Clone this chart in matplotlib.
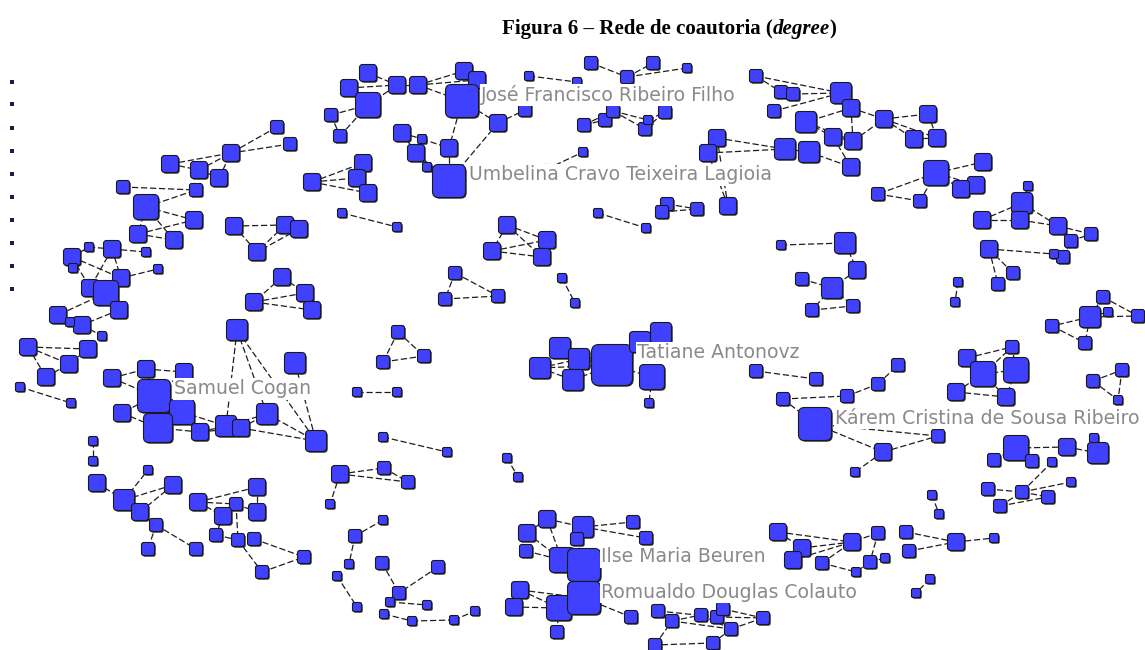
import matplotlib
matplotlib.use("Agg")
import matplotlib.pyplot as plt
from matplotlib.patches import FancyBboxPatch
from matplotlib.collections import LineCollection

# ======================
# DATA (layout in pixels of the original drawing, degree of each author)
# ======================
node_x = [
    277, 290, 231, 170, 199, 219, 123, 196, 146, 194,      # 0-9
    138, 174, 72, 89, 112, 146, 73, 121, 158, 90,          # 10-19
    106, 119, 58, 82, 70, 102, 28, 88, 69, 46,             # 20-29
    20, 71, 112, 146, 184, 154, 122, 182, 158, 200,        # 30-39
    226, 241, 267, 295, 316, 237, 234, 285, 299, 257,      # 40-49
    282, 254, 305, 312, 368, 349, 397, 418, 464, 477,      # 50-59
    462, 368, 331, 340, 525, 498, 402, 422, 416, 449,      # 60-69
    427, 449, 529, 547, 577, 583, 591, 627, 653, 687,      # 70-79
    584, 605, 613, 645, 648, 665, 717, 708, 785, 809,      # 80-89
    756, 781, 793, 774, 841, 851, 806, 833, 853, 851,      # 90-99
    884, 928, 914, 937, 936, 983, 976, 961, 878, 920,      # 100-109
    1028, 1022, 1020, 982, 1058, 1071, 1091, 989, 1013, 998,  # 110-119
    1063, 1054, 958, 955, 1103, 1090, 1108, 1138, 1052, 1085,  # 120-129
    1093, 1122, 1118, 967, 983, 1016, 1012, 956, 1006, 756,   # 130-139
    816, 783, 847, 815, 898, 878, 938, 883, 855, 1016,     # 140-149
    994, 1032, 1067, 1098, 1094, 1052, 988, 1022, 1048, 1000,  # 150-159
    1071, 878, 906, 909, 956, 994, 870, 885, 856, 930,     # 160-169
    916, 852, 778, 802, 793, 822, 547, 527, 526, 583,      # 170-179
    577, 633, 646, 562, 584, 520, 514, 559, 584, 557,      # 180-189
    631, 658, 672, 701, 717, 723, 763, 731, 713, 655,      # 190-199
    340, 384, 408, 330, 383, 355, 349, 337, 357, 382,      # 200-209
    438, 399, 390, 427, 384, 412, 454, 475, 357, 397,      # 210-219
    383, 447, 507, 518, 383, 424, 398, 93, 93, 97,         # 220-229
    124, 140, 148, 173, 156, 148, 196, 198, 257, 236,      # 230-239
    223, 257, 216, 238, 254, 262, 304, 507, 547, 542,      # 240-249
    492, 455, 445, 498, 562, 575, 342, 397, 312, 363,      # 250-259
    357, 368, 667, 662, 697, 728, 598, 646, 781, 845,      # 260-269
    857, 832, 802, 812, 853, 540, 560, 579, 573, 612,      # 270-279
    640, 661, 652, 649, 932, 939,                          # 280-285
    12, 12, 12, 12, 12, 12, 12, 12, 12, 12,                # 286-295 isolates
]
node_y = [
    127, 144, 153, 164, 170, 178, 187, 190, 207, 220,
    234, 240, 257, 247, 249, 252, 268, 278, 269, 288,
    293, 310, 315, 325, 322, 336, 347, 349, 364, 377,
    387, 403, 378, 369, 372, 396, 413, 412, 428, 432,
    426, 428, 414, 363, 441, 330, 226, 225, 229, 252,
    277, 302, 293, 310, 73, 88, 85, 85, 71, 80,
    101, 105, 115, 136, 110, 123, 133, 139, 153, 148,
    167, 181, 76, 169, 82, 152, 63, 77, 63, 68,
    125, 120, 111, 129, 120, 112, 138, 153, 149, 152,
    76, 92, 94, 111, 93, 108, 122, 137, 141, 167,
    119, 114, 139, 138, 173, 162, 185, 189, 194, 201,
    186, 203, 220, 220, 226, 241, 234, 249, 273, 284,
    257, 254, 282, 302, 297, 317, 312, 316, 326, 343,
    381, 370, 400, 358, 374, 370, 347, 392, 397, 371,
    379, 399, 396, 424, 365, 384, 436, 452, 472, 448,
    460, 461, 447, 453, 438, 462, 489, 492, 497, 506,
    482, 533, 532, 551, 542, 538, 562, 558, 572, 579,
    593, 542, 532, 548, 560, 563, 519, 533, 551, 527,
    539, 522, 538, 560, 565, 590, 607, 608, 598, 632,
    617, 611, 621, 615, 617, 609, 618, 629, 643, 645,
    474, 468, 482, 504, 520, 536, 564, 576, 607, 563,
    567, 593, 602, 605, 614, 621, 620, 611, 392, 392,
    437, 452, 458, 477, 362, 356, 332, 441, 461, 483,
    500, 512, 470, 485, 525, 549, 549, 502, 487, 504,
    516, 512, 535, 540, 539, 572, 557, 225, 240, 257,
    251, 273, 299, 296, 278, 303, 213, 227, 182, 163,
    178, 193, 204, 212, 209, 206, 213, 228, 245, 243,
    270, 288, 279, 310, 306, 368, 348, 359, 380, 365,
    342, 333, 377, 403, 495, 514,
    82, 104, 128, 151, 174, 197, 220, 243, 266, 289,
]
node_degree = [
    2, 2, 3, 3, 3, 3, 2, 2, 5, 3,
    3, 3, 3, 1, 3, 1, 1, 3, 1, 3,
    5, 3, 3, 3, 1, 1, 3, 3, 3, 3,
    1, 1, 3, 3, 3, 7, 3, 5, 6, 3,
    4, 3, 4, 4, 4, 4, 3, 3, 3, 3,
    3, 3, 3, 3, 3, 3, 3, 3, 3, 3,
    7, 5, 2, 2, 2, 3, 3, 1, 3, 3,
    1, 7, 1, 1, 1, 1, 2, 2, 2, 1,
    2, 2, 2, 2, 1, 2, 3, 3, 4, 4,
    2, 2, 2, 2, 4, 3, 4, 3, 3, 3,
    3, 3, 3, 3, 5, 3, 3, 3, 2, 2,
    1, 4, 3, 3, 3, 2, 2, 3, 2, 2,
    2, 1, 1, 1, 2, 4, 1, 2, 2, 2,
    2, 2, 1, 3, 5, 5, 2, 3, 3, 2,
    2, 2, 2, 7, 2, 2, 2, 3, 1, 5,
    2, 2, 3, 4, 1, 1, 2, 2, 2, 2,
    1, 2, 2, 2, 3, 1, 2, 1, 1, 1,
    1, 3, 3, 3, 3, 2, 3, 3, 2, 4,
    2, 2, 2, 5, 7, 3, 3, 5, 7, 2,
    2, 2, 2, 2, 2, 2, 2, 2, 2, 2,
    3, 2, 2, 1, 1, 2, 1, 1, 1, 2,
    2, 2, 1, 1, 1, 1, 1, 1, 1, 1,
    1, 1, 1, 1, 2, 2, 2, 1, 1, 3,
    4, 3, 1, 3, 2, 2, 2, 3, 3, 2,
    3, 3, 2, 2, 2, 2, 2, 3, 3, 3,
    3, 2, 2, 2, 1, 1, 1, 1, 3, 3,
    3, 3, 2, 2, 2, 3, 1, 1, 1, 4,
    3, 4, 2, 2, 2, 4, 4, 4, 4, 9,
    4, 4, 5, 1, 1, 1,
    0, 0, 0, 0, 0, 0, 0, 0, 0, 0,
]

edges = [
    (0, 2), (1, 2), (3, 2), (4, 2), (3, 4), (4, 5), (5, 2), (6, 7), (8, 7), (8, 9),
    (8, 11), (8, 10), (10, 9), (10, 11),
    (12, 13), (13, 14), (14, 15), (12, 17), (14, 19), (14, 17), (12, 16), (12, 19),
    (17, 18), (19, 20), (17, 20), (20, 22), (20, 21), (21, 23), (22, 23), (23, 25),
    (22, 24), (26, 27), (26, 28), (26, 29), (27, 28), (29, 28), (30, 31),
    (32, 33), (32, 35), (33, 35), (33, 34), (34, 35), (35, 36), (35, 37), (35, 38),
    (36, 38), (38, 37), (38, 39), (39, 40), (37, 40), (40, 42), (41, 42), (45, 40),
    (45, 42), (45, 44), (43, 44), (42, 44), (41, 44), (40, 41), (39, 41),
    (46, 47), (46, 49), (47, 49), (48, 49), (47, 48), (50, 51), (51, 52), (51, 53), (50, 52),
    (54, 56), (55, 56), (55, 61), (61, 56), (56, 57), (57, 58), (57, 59), (57, 60),
    (58, 59), (59, 60), (60, 65), (65, 64), (60, 69), (69, 71), (65, 71), (62, 61),
    (62, 63), (63, 61), (66, 67), (66, 68), (67, 69), (68, 71), (70, 71), (72, 74), (73, 75),
    (76, 77), (77, 78), (79, 77), (80, 82), (80, 81), (82, 83), (82, 84), (84, 85),
    (83, 85), (81, 82),
    (86, 88), (87, 88), (86, 87), (88, 89), (90, 91), (90, 94), (91, 92), (92, 94),
    (93, 94), (94, 95), (95, 96), (96, 97), (96, 98), (97, 98), (97, 99), (89, 99),
    (95, 98), (95, 100), (98, 100),
    (100, 101), (100, 102), (100, 103), (101, 103), (102, 103),
    (104, 105), (104, 106), (104, 107), (106, 107), (104, 108), (108, 109), (104, 109),
    (110, 111), (111, 112), (113, 111), (113, 112), (111, 114), (112, 114), (114, 115),
    (115, 116), (114, 116), (120, 115), (117, 121), (121, 120), (117, 118), (117, 119),
    (122, 123),
    (124, 127), (125, 126), (125, 127), (125, 128), (125, 129), (128, 129), (124, 125),
    (130, 131), (131, 132), (130, 132),
    (133, 134), (133, 136), (134, 135), (134, 136), (135, 136), (137, 134), (137, 138),
    (135, 138), (134, 138),
    (139, 140), (141, 142), (141, 143), (142, 145), (145, 144), (143, 147), (147, 146),
    (147, 148), (143, 146),
    (149, 150), (149, 151), (149, 152), (152, 153), (153, 154), (155, 157), (156, 157),
    (157, 158), (157, 160), (159, 157), (159, 158),
    (162, 164), (163, 164), (164, 165), (161, 166), (166, 167), (166, 168), (161, 171),
    (169, 170),
    (172, 173), (172, 171), (173, 171), (174, 171), (175, 171), (175, 168), (173, 174),
    (176, 177), (176, 179), (177, 183), (178, 183), (176, 183), (179, 181), (179, 182),
    (179, 180), (180, 184), (183, 184), (184, 188), (185, 187), (186, 187), (185, 188),
    (187, 188), (187, 189), (188, 190), (191, 192), (191, 194), (192, 193), (193, 194),
    (194, 195), (195, 196), (194, 196), (192, 197), (193, 197), (197, 196), (197, 198),
    (198, 199), (199, 192),
    (200, 201), (200, 202), (201, 202), (200, 203), (204, 205), (205, 206), (207, 208),
    (209, 211), (210, 211), (211, 212), (212, 213), (214, 215), (215, 216), (216, 217),
    (218, 219), (220, 221), (222, 223), (224, 225), (226, 224), (226, 225),
    (227, 228), (229, 230), (230, 231), (230, 232), (230, 233), (231, 233), (231, 234),
    (234, 235), (234, 236), (237, 238), (237, 239), (237, 240), (238, 241), (239, 241),
    (239, 243), (240, 242), (242, 243), (244, 246), (243, 245), (245, 246),
    (247, 248), (247, 249), (250, 248), (250, 249), (247, 250), (251, 252), (251, 253),
    (252, 253), (254, 255), (256, 257), (258, 259), (258, 260), (258, 261), (259, 260),
    (260, 261),
    (262, 264), (263, 264), (262, 263), (265, 87), (265, 86), (266, 267),
    (268, 269), (269, 270), (272, 271), (270, 271), (271, 273), (273, 274), (271, 274),
    (275, 277), (275, 278), (276, 277), (277, 279), (278, 279), (279, 280), (279, 282),
    (280, 281), (282, 283), (275, 279), (276, 279), (281, 282),
    (284, 285),
]

label_names = [
    "José Francisco Ribeiro Filho",
    "Umbelina Cravo Teixeira Lagioia",
    "Tatiane Antonovz",
    "Samuel Cogan",
    "Kárem Cristina de Sousa Ribeiro",
    "Ilse Maria Beuren",
    "Romualdo Douglas Colauto",
]
label_x = [481, 469, 637, 174, 835, 601, 601]
label_y = [95, 175, 353, 389, 418, 557, 592]

W, H = 1145, 650

# ======================
# FIGURE
# ======================
fig = plt.figure(figsize=(W / 100, H / 100), dpi=100)
fig.patch.set_facecolor('white')
ax = fig.add_axes([0, 0, 1, 1])
ax.set_xlim(0, W)
ax.set_ylim(H, 0)
ax.axis('off')

# edges
segs = [[(node_x[a], node_y[a]), (node_x[b], node_y[b])] for a, b in edges]
lc = LineCollection(segs, colors='#1e1e1e', linewidths=0.9,
                    linestyles=[(0, (5, 2.2))], zorder=1)
ax.add_collection(lc)

# nodes: rounded squares, side grows with degree
for x, y, d in zip(node_x, node_y, node_degree):
    if d == 0:
        ax.add_patch(FancyBboxPatch((x - 2, y - 2), 4, 4,
                                    boxstyle="square,pad=0",
                                    facecolor='#1c1c4a', edgecolor='none', zorder=2))
        continue
    s = 5 + 4 * d
    r = s * 0.18
    ax.add_patch(FancyBboxPatch((x - s / 2 + 1.2, y - s / 2 + 1.2), s, s,
                                boxstyle=f"round,pad=0,rounding_size={r}",
                                facecolor='#2a2a2a', edgecolor='none', zorder=2))
    ax.add_patch(FancyBboxPatch((x - s / 2, y - s / 2), s, s,
                                boxstyle=f"round,pad=0,rounding_size={r}",
                                facecolor='#4040ff', edgecolor='#1a1a1a',
                                linewidth=0.8, zorder=3))

# labels, sized so the widest (right edge) one still fits inside the figure
fig.canvas.draw()
renderer = fig.canvas.get_renderer()
probe = ax.text(0, 0, label_names[4], fontsize=12, family='DejaVu Sans')
pw = probe.get_window_extent(renderer).width
probe.remove()
lab_fs = 12 * 302 / pw

for name, x, y in zip(label_names, label_x, label_y):
    ax.text(x, y, name, fontsize=lab_fs, family='DejaVu Sans', color='#8a8a8a',
            ha='left', va='center', zorder=5,
            bbox=dict(facecolor='white', edgecolor='none', pad=1.0))

# title with italic "degree"
parts = [("Figura 6 – Rede de coautoria (", 'normal'), ("degree", 'italic'), (")", 'normal')]
title_fs = 16
texts = []
for s, st in parts:
    t = fig.text(0, 0, s, fontsize=title_fs, family='Liberation Serif',
                 weight='bold', style=st, va='center')
    texts.append(t)
fig.canvas.draw()
total = sum(t.get_window_extent(renderer).width for t in texts)
title_fs = title_fs * 338 / total
for t in texts:
    t.set_fontsize(title_fs)
fig.canvas.draw()
widths = [t.get_window_extent(renderer).width for t in texts]
cur = 669 - sum(widths) / 2
for t, w in zip(texts, widths):
    t.set_position((cur / W, 1 - 29 / H))
    cur += w

fig.savefig('out.png', dpi=100, facecolor='white')
